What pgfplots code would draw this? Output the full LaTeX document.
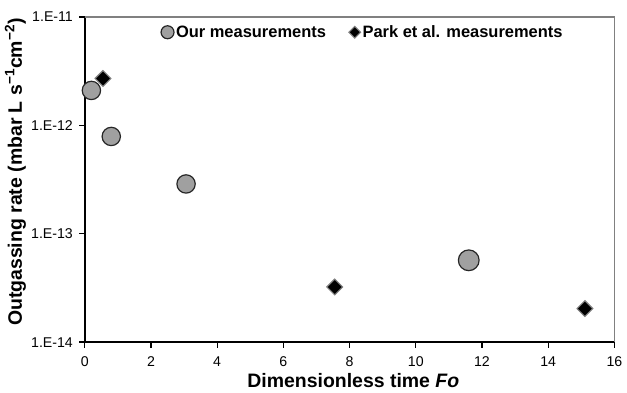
\documentclass[border=0pt]{standalone}
\usepackage{fontspec}
\setmainfont{Liberation Sans}
\usepackage{pgfplots}
\pgfplotsset{compat=1.18}
\definecolor{circfill}{RGB}{160,160,160}
\definecolor{frame}{RGB}{128,128,128}
\pgfplotsset{
  circlegend/.style={legend image code/.code={\draw[##1, mark size=6.5pt] plot coordinates {(0pt,0pt)};}},
  diamlegend/.style={legend image code/.code={\draw[##1, mark size=4.1pt] plot coordinates {(0pt,0pt)};}},
}
\begin{document}
\begin{tikzpicture}
\begin{axis}[
  at={(0,0)}, anchor=south west,
  scale only axis, width=531pt, height=326pt,
  xmin=0, xmax=16, ymin=1e-14, ymax=1e-11,
  ymode=log,
  xtick={0,2,...,16},
  xticklabels={0,2,4,6,8,10,12,14,16},
  ytick={1e-14,1e-13,1e-12,1e-11},
  yticklabels={1.E-14,1.E-13,1.E-12,1.E-11},
  yminorticks=false,
  axis x line*=bottom, axis y line*=left,
  axis line style={-, line width=1.5pt, black},
  tick align=outside, major tick length=5.5pt,
  tick style={line width=1.3pt, black},
  tick label style={scale=1.42},
  xticklabel style={yshift=-3pt},
  yticklabel style={xshift=-1pt},
  xlabel={\textbf{Dimensionless time \textit{Fo}}},
  ylabel={\textbf{Outgassing rate (mbar L s\textsuperscript{−1}cm\textsuperscript{−2})}},
  label style={font=\fontsize{19.5}{22}\selectfont},
  xlabel style={at={(axis description cs:0.507,-0.117)}, anchor=center},
  ylabel style={at={(axis description cs:-0.131,0.523)}, anchor=center},
  legend columns=2,
  legend style={draw=none, fill=none, at={(rel axis cs:0.138,0.953)}, anchor=west,
    font=\bfseries\fontsize{16.5}{19}\selectfont,
    /tikz/every even column/.append style={column sep=21pt},
    /tikz/every odd column/.append style={column sep=0pt}},
  legend cell align=left,
  clip=false,
]
\addplot[only marks, mark=*, mark size=9.2pt, mark options={fill=circfill, draw=black!85, line width=1.2pt}, circlegend]
  coordinates {(0.2,2.1e-12) (0.8,7.9e-13) (3.06,2.88e-13)};
\addlegendentry{Our measurements}
\addplot[only marks, mark=square*, mark size=5.6pt, mark options={rotate=45, fill=black, draw=frame, line width=1.1pt}, diamlegend]
  coordinates {(0.55,2.71e-12) (7.55,3.23e-14) (15.11,2.04e-14)};
\addlegendentry{Park et al. measurements}
\addplot[forget plot, only marks, mark=*, mark size=10.4pt, mark options={fill=circfill, draw=black!85, line width=1.2pt}]
  coordinates {(11.6,5.69e-14)};
\draw[frame, line width=1.5pt] (rel axis cs:0,1) -- (rel axis cs:1,1) -- (rel axis cs:1,0);
\end{axis}
\path[use as bounding box] (-85pt,-51pt) rectangle (542pt,343pt);
\end{tikzpicture}
\end{document}
